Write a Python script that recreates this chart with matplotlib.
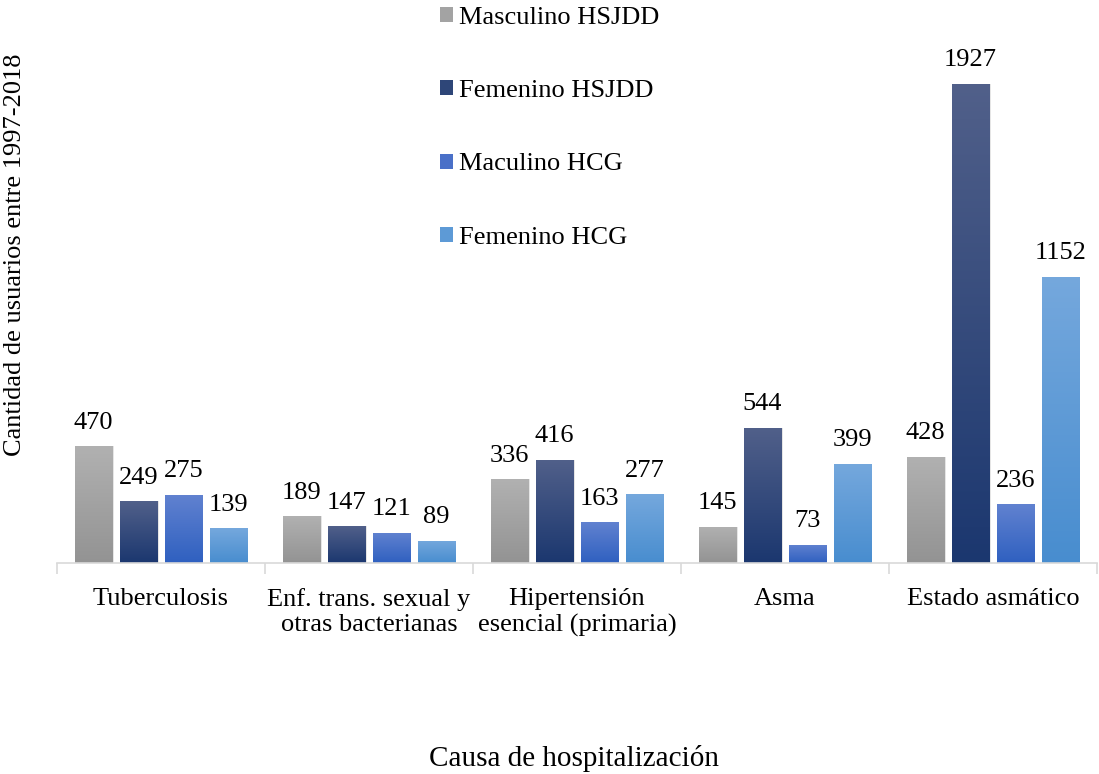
import matplotlib
matplotlib.use("Agg")
import matplotlib.pyplot as plt
import numpy as np
from matplotlib.colors import LinearSegmentedColormap

categories = ["Tuberculosis", "Enf. trans. sexual y\notras bacterianas",
              "Hipertensión\nesencial (primaria)", "Asma", "Estado asmático"]
series_names = ["Masculino HSJDD", "Femenino HSJDD", "Maculino HCG", "Femenino HCG"]
masc_hsjdd = [470, 189, 336, 145, 428]
fem_hsjdd = [249, 147, 416, 544, 1927]
masc_hcg = [275, 121, 163, 73, 236]
fem_hcg = [139, 89, 277, 399, 1152]
series = [masc_hsjdd, fem_hsjdd, masc_hcg, fem_hcg]

grad_colors = [("#b1b1b1", "#939393"), ("#51608a", "#1b376f"),
               ("#6182d0", "#2f60c0"), ("#75a8dd", "#488dcf")]
mid_colors = ["#a3a3a3", "#2e4678", "#4a70c8", "#5d9ad6"]

plt.rcParams['font.family'] = ['Liberation Serif', 'DejaVu Serif']
FS = 19

W, H = 1099, 774
fig = plt.figure(figsize=(W / 100, H / 100), dpi=100)
ax_left, ax_right, ax_bottom_px, ax_top_px = 57, 1097, 563, 10
ax = fig.add_axes([ax_left / W, (H - ax_bottom_px) / H, (ax_right - ax_left) / W,
                   (ax_bottom_px - ax_top_px) / H])
ymax = (ax_bottom_px - ax_top_px) / (479 / 1927)
ax.set_xlim(-0.5, len(categories) - 0.5)
ax.set_ylim(0, ymax)

x = np.arange(len(categories))
pitch = 0.216
width = 0.18
grad = np.linspace(1, 0, 256).reshape(-1, 1)
for i, (vals, name) in enumerate(zip(series, series_names)):
    offs = (i - 1.5) * pitch
    bars = ax.bar(x + offs, vals, width, color=mid_colors[i], label=name, zorder=2)
    cmap = LinearSegmentedColormap.from_list("g%d" % i, [grad_colors[i][1], grad_colors[i][0]])
    for b, v in zip(bars, vals):
        bx, by = b.get_x(), b.get_y()
        bw, bh = b.get_width(), b.get_height()
        sh = plt.Rectangle((bx + 0.006, by), bw, bh, facecolor="#000000", alpha=0.10,
                           edgecolor="none", zorder=1.5)
        ax.add_patch(sh)
        im = ax.imshow(grad, extent=[bx, bx + bw, by, by + bh], aspect="auto",
                       cmap=cmap, vmin=0, vmax=1, zorder=2.5)
        im.set_clip_path(b)
        ax.annotate(str(v), (bx + bw / 2, by + bh), xytext=(0, 9),
                    textcoords="offset points", ha="center", va="bottom",
                    fontsize=FS, color="#000000")

for s in ["top", "right", "left"]:
    ax.spines[s].set_visible(False)
ax.spines["bottom"].set_color("#d9d9d9")
ax.spines["bottom"].set_linewidth(1.2)
ax.set_yticks([])
ax.set_xticks(x)
ax.set_xticklabels(categories, fontsize=FS, linespacing=1.2)
ax.tick_params(axis="x", which="major", length=0, pad=18)
ax.set_xticks(np.arange(-0.5, len(categories)), minor=True)
ax.tick_params(axis="x", which="minor", length=8, color="#d9d9d9", width=1.2)

fig.text(574 / W, 1 - 758 / H, "Causa de hospitalización", ha="center", va="center",
         fontsize=21)
fig.text(15 / W, 1 - 255 / H, "Cantidad de usuarios entre 1997-2018", ha="center",
         va="center", rotation=90, fontsize=FS)

fig.legend(loc="upper left", bbox_to_anchor=(429 / W, 1 + 4 / H), frameon=False,
           fontsize=FS, labelspacing=1.95, handlelength=0.5, handleheight=0.5,
           handletextpad=0.25, borderaxespad=0)

fig.savefig("out.png", dpi=100)
